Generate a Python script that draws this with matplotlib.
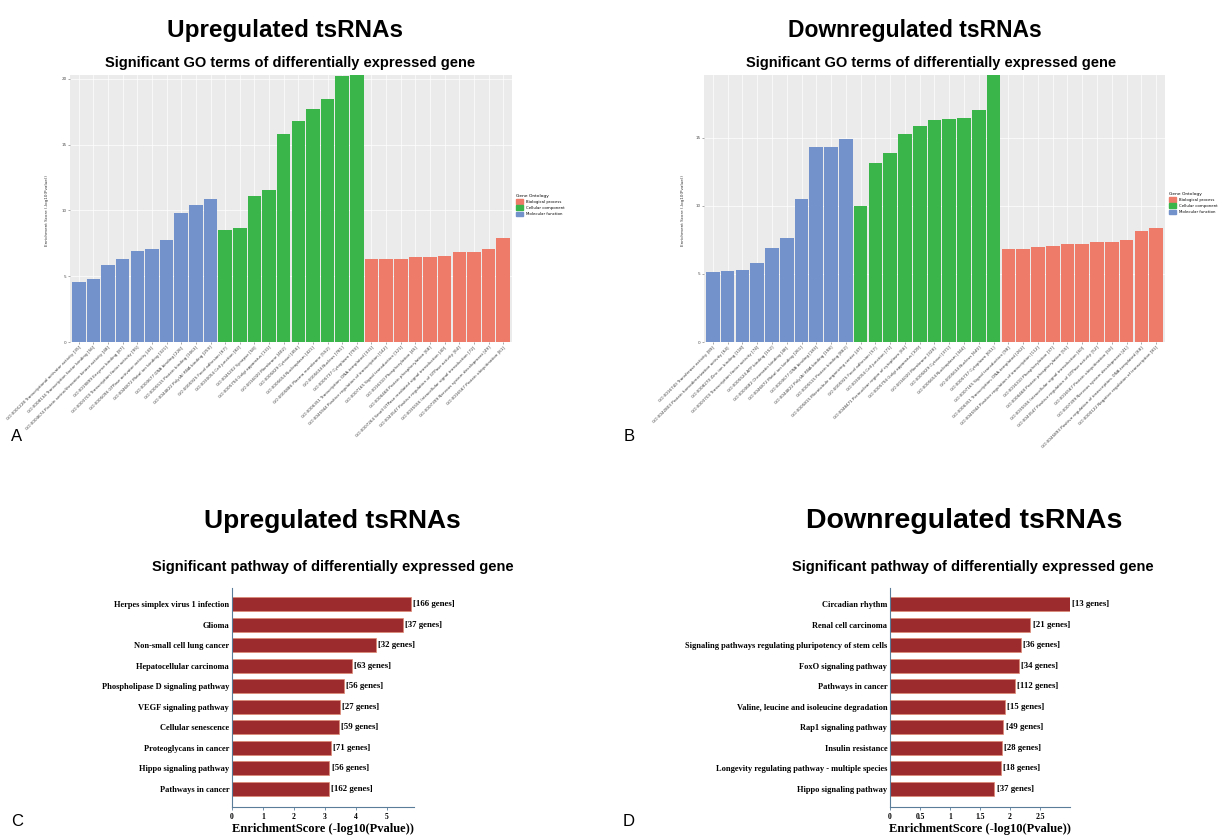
import numpy as np
import matplotlib.pyplot as plt
from matplotlib.patches import Patch

# ---- GO enrichment data (panel A: upregulated) ----
up_mf_terms = ["GO:0001228 Transcriptional activator activity [35]",
               "GO:0008134 Transcription factor binding [56]",
               "GO:0004674 Protein serine/threonine kinase activity [48]",
               "GO:0019899 Enzyme binding [87]",
               "GO:0003700 Transcription factor activity [95]",
               "GO:0005096 GTPase activator activity [43]",
               "GO:0046872 Metal ion binding [321]",
               "GO:0003677 DNA binding [226]",
               "GO:0005515 Protein binding [1063]",
               "GO:0044822 Poly(A) RNA binding [259]"]
up_mf_vals = [4.54, 4.82, 5.84, 6.32, 6.88, 7.08, 7.74, 9.82, 10.41, 10.89]
up_cc_terms = ["GO:0005925 Focal adhesion [67]",
               "GO:0030054 Cell junction [82]",
               "GO:0045202 Synapse [58]",
               "GO:0005794 Golgi apparatus [131]",
               "GO:0016020 Membrane [402]",
               "GO:0005829 Cytosol [456]",
               "GO:0005654 Nucleoplasm [421]",
               "GO:0005886 Plasma membrane [552]",
               "GO:0005634 Nucleus [781]",
               "GO:0005737 Cytoplasm [790]"]
up_cc_vals = [8.53, 8.63, 11.07, 11.55, 15.81, 16.75, 17.72, 18.45, 20.23, 20.28]
up_bp_terms = ["GO:0006351 Transcription, DNA-templated [331]",
               "GO:0045944 Positive regulation of transcription [142]",
               "GO:0007165 Signal transduction [121]",
               "GO:0016310 Phosphorylation [45]",
               "GO:0006468 Protein phosphorylation [68]",
               "GO:0007264 Small GTPase mediated signal transduction [40]",
               "GO:0043547 Positive regulation of GTPase activity [64]",
               "GO:0035556 Intracellular signal transduction [72]",
               "GO:0007399 Nervous system development [49]",
               "GO:0016567 Protein ubiquitination [61]"]
up_bp_vals = [6.27, 6.32, 6.32, 6.47, 6.47, 6.52, 6.80, 6.85, 7.08, 7.89]

# ---- GO enrichment data (panel B: downregulated) ----
dn_mf_terms = ["GO:0016740 Transferase activity [89]",
               "GO:0042803 Protein homodimerization activity [64]",
               "GO:0008270 Zinc ion binding [118]",
               "GO:0003700 Transcription factor activity [74]",
               "GO:0005524 ATP binding [152]",
               "GO:0003682 Chromatin binding [48]",
               "GO:0046872 Metal ion binding [261]",
               "GO:0003677 DNA binding [183]",
               "GO:0044822 Poly(A) RNA binding [198]",
               "GO:0005515 Protein binding [862]"]
dn_mf_vals = [5.14, 5.21, 5.33, 5.82, 6.88, 7.67, 10.52, 14.30, 14.35, 14.96]
dn_cc_terms = ["GO:0005815 Microtubule organizing center [47]",
               "GO:0005925 Focal adhesion [57]",
               "GO:0030054 Cell junction [71]",
               "GO:0048471 Perinuclear region of cytoplasm [66]",
               "GO:0005794 Golgi apparatus [109]",
               "GO:0016020 Membrane [328]",
               "GO:0005829 Cytosol [371]",
               "GO:0005654 Nucleoplasm [344]",
               "GO:0005634 Nucleus [640]",
               "GO:0005737 Cytoplasm [651]"]
dn_cc_vals = [10.02, 13.17, 13.86, 15.28, 15.85, 16.29, 16.36, 16.44, 17.08, 19.63]
dn_bp_terms = ["GO:0007165 Signal transduction [98]",
               "GO:0006351 Transcription, DNA-templated [262]",
               "GO:0045944 Positive regulation of transcription [112]",
               "GO:0016310 Phosphorylation [37]",
               "GO:0006468 Protein phosphorylation [55]",
               "GO:0035556 Intracellular signal transduction [60]",
               "GO:0043547 Positive regulation of GTPase activity [52]",
               "GO:0016567 Protein ubiquitination [50]",
               "GO:0007399 Nervous system development [41]",
               "GO:0045893 Positive regulation of transcription, DNA-templated [68]",
               "GO:0000122 Negative regulation of transcription [81]"]
dn_bp_vals = [6.81, 6.81, 6.95, 7.05, 7.22, 7.22, 7.32, 7.37, 7.49, 8.18, 8.35]

# ---- KEGG pathway data ----
up_paths = ["Herpes simplex virus 1 infection", "Glioma", "Non-small cell lung cancer",
            "Hepatocellular carcinoma", "Phospholipase D signaling pathway",
            "VEGF signaling pathway", "Cellular senescence", "Proteoglycans in cancer",
            "Hippo signaling pathway", "Pathways in cancer"]
up_path_vals = [5.78, 5.50, 4.65, 3.87, 3.62, 3.48, 3.44, 3.18, 3.14, 3.12]
up_path_genes = [166, 37, 32, 63, 56, 27, 59, 71, 56, 162]
up_path_ticks = [0, 1, 2, 3, 4, 5]

dn_paths = ["Circadian rhythm", "Renal cell carcinoma",
            "Signaling pathways regulating pluripotency of stem cells",
            "FoxO signaling pathway", "Pathways in cancer",
            "Valine, leucine and isoleucine degradation", "Rap1 signaling pathway",
            "Insulin resistance", "Longevity regulating pathway - multiple species",
            "Hippo signaling pathway"]
dn_path_vals = [3.00, 2.34, 2.18, 2.15, 2.08, 1.92, 1.89, 1.87, 1.85, 1.74]
dn_path_genes = [13, 21, 36, 34, 112, 15, 49, 28, 18, 37]
dn_path_ticks = [0, 0.5, 1, 1.5, 2, 2.5]

C_BP, C_CC, C_MF = '#ee7b69', '#3ab54a', '#7392cb'
W, H = 1218, 839


def fr(x0, y0, x1, y1):
    # pixel box -> figure fraction rect
    return [x0 / W, 1 - y1 / H, (x1 - x0) / W, (y1 - y0) / H]


def go_panel(fig, rect, mf, mfv, cc, ccv, bp, bpv, yticks, leg_xy, ylab_x):
    ax = fig.add_axes(rect)
    terms = mf + cc + bp
    vals = mfv + ccv + bpv
    cols = [C_MF] * len(mf) + [C_CC] * len(cc) + [C_BP] * len(bp)
    x = np.arange(len(terms))
    ax.set_facecolor('#ebebeb')
    ax.grid(True, color='white', lw=0.5)
    ax.set_axisbelow(True)
    ax.bar(x, vals, width=0.92, color=cols)
    ax.set_xlim(-0.6, len(terms) - 0.4)
    ax.set_ylim(0, max(vals))
    ax.set_yticks(yticks)
    ax.set_yticklabels([str(t) for t in yticks], fontsize=3, color='#4d4d4d')
    ax.set_xticks(x)
    ax.set_xticklabels(terms, rotation=45, ha='right', rotation_mode='anchor',
                       fontsize=3, color='#3a3a3a')
    ax.tick_params(length=1.5, width=0.4, color='#666666', pad=1)
    for s in ax.spines.values():
        s.set_visible(False)
    fig.text(ylab_x / W, 1 - 210 / H, 'Enrichment Score (-log10(Pvalue))',
             rotation=90, fontsize=3, color='#333333', ha='center', va='center')
    handles = [Patch(color=C_BP, label='Biological process'),
               Patch(color=C_CC, label='Cellular component'),
               Patch(color=C_MF, label='Molecular function')]
    fig.legend(handles=handles, title='Gene Ontology', loc='upper left',
               bbox_to_anchor=(leg_xy[0] / W, 1 - leg_xy[1] / H), frameon=False,
               fontsize=2.8, title_fontsize=3.2, handlelength=1.8, handleheight=1.5,
               borderaxespad=0, alignment='left', labelspacing=0.4)
    return ax


def path_panel(fig, rect, names, vals, genes, ticks, xmax):
    ax = fig.add_axes(rect)
    n = len(names)
    y = np.arange(n)[::-1]
    ax.barh(y, vals, height=0.68, color='#9b2b2c', edgecolor='#e08a72', lw=0.5)
    for yi, v, g in zip(y, vals, genes):
        ax.text(v + 0.012 * xmax, yi, '[%d genes]' % g, va='center', ha='left',
                fontsize=6.3, fontweight='bold', family='Liberation Serif')
    ax.set_xlim(0, xmax)
    ax.set_ylim(-0.9, n - 0.2)
    ax.set_yticks(y)
    ax.set_yticklabels(names, fontsize=6, fontweight='bold', family='Liberation Serif')
    ax.set_xticks(ticks)
    ax.set_xticklabels([('%g' % t) for t in ticks], fontsize=5.5, fontweight='bold',
                       family='Liberation Serif')
    ax.tick_params(axis='y', length=0, pad=2)
    ax.tick_params(axis='x', length=2, width=0.6, color='#5a7d9a', pad=2)
    ax.spines['top'].set_visible(False)
    ax.spines['right'].set_visible(False)
    for s in ('left', 'bottom'):
        ax.spines[s].set_color('#5a7d9a')
        ax.spines[s].set_linewidth(0.8)
    ax.set_xlabel('EnrichmentScore (-log10(Pvalue))', fontsize=9, fontweight='bold',
                  family='Liberation Serif', labelpad=2)
    return ax


fig = plt.figure(figsize=(12.18, 8.39), dpi=100)

# panel A
go_panel(fig, fr(70, 75, 512, 342), up_mf_terms, up_mf_vals, up_cc_terms, up_cc_vals,
         up_bp_terms, up_bp_vals, [0, 5, 10, 15, 20], (514, 192), 47)
# panel B
go_panel(fig, fr(704, 75, 1165, 342), dn_mf_terms, dn_mf_vals, dn_cc_terms, dn_cc_vals,
         dn_bp_terms, dn_bp_vals, [0, 5, 10, 15], (1167, 190), 683)

# panel C and D
path_panel(fig, fr(232, 588, 414, 807), up_paths, up_path_vals, up_path_genes,
           up_path_ticks, 5.87)
path_panel(fig, fr(890, 588, 1070, 807), dn_paths, dn_path_vals, dn_path_genes,
           dn_path_ticks, 3.0)

# titles
tfont = dict(family='Liberation Sans', fontweight='bold', ha='center', va='center')
fig.text(285 / W, 1 - 30 / H, 'Upregulated tsRNAs', fontsize=17.5, **tfont)
fig.text(290 / W, 1 - 63 / H, 'Significant GO terms of differentially expressed gene',
         fontsize=10.5, **tfont)
fig.text(915 / W, 1 - 30 / H, 'Downregulated tsRNAs', fontsize=16.5, **tfont)
fig.text(931 / W, 1 - 63 / H, 'Significant GO terms of differentially expressed gene',
         fontsize=10.5, **tfont)
fig.text(332 / W, 1 - 521 / H, 'Upregulated tsRNAs', fontsize=19, **tfont)
fig.text(333 / W, 1 - 567 / H, 'Significant pathway of differentially expressed gene',
         fontsize=10.5, **tfont)
fig.text(964 / W, 1 - 521 / H, 'Downregulated tsRNAs', fontsize=20.5, **tfont)
fig.text(973 / W, 1 - 567 / H, 'Significant pathway of differentially expressed gene',
         fontsize=10.5, **tfont)

# panel letters
for lab, x, y in [('A', 17, 436), ('B', 629, 436), ('C', 17, 822), ('D', 629, 822)]:
    fig.text(x / W, 1 - y / H, lab, fontsize=12, family='Liberation Sans',
             ha='center', va='center')

fig.savefig('out.png', dpi=100)
